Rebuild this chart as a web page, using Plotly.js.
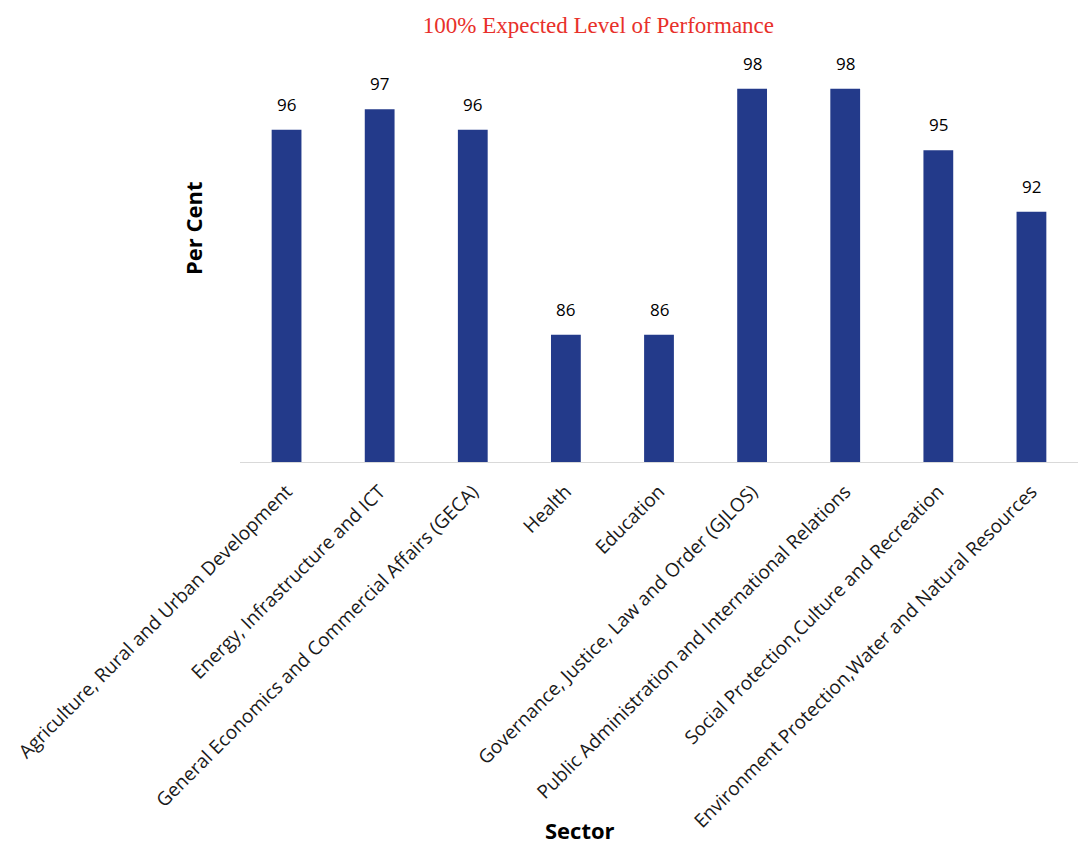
<!DOCTYPE html>
<html>
<head>
<meta charset="utf-8">
<script src="https://cdn.plot.ly/plotly-3.0.1.min.js"></script>
<style>
  html, body { margin: 0; padding: 0; background: #ffffff; }
  #chart { width: 1088px; height: 845px; }
</style>
</head>
<body>
<div id="chart"></div>
<script>
const sectors = [
  "Agriculture, Rural and Urban Development",
  "Energy, Infrastructure and ICT",
  "General Economics and Commercial Affairs (GECA)",
  "Health",
  "Education",
  "Governance, Justice, Law and Order (GJLOS)",
  "Public Administration and International Relations",
  "Social Protection,Culture and Recreation",
  "Environment Protection,Water and Natural Resources"
];
const perCent = [96, 97, 96, 86, 86, 98, 98, 95, 92];

const chartTitle = "100% Expected Level of Performance";
const yTitle = "Per Cent";
const xTitle = "Sector";

const barColor = "#233a8a";
const labelFont = "Open Sans, Noto Sans, sans-serif";

const trace = {
  type: "bar",
  x: sectors,
  y: perCent,
  marker: { color: barColor },
  hoverinfo: "x+y",
  showlegend: false
};

const valueLabels = sectors.map((s, i) => ({
  x: s,
  y: perCent[i],
  xref: "x",
  yref: "y",
  text: String(perCent[i]),
  showarrow: false,
  yanchor: "bottom",
  yshift: 12,
  font: { family: labelFont, size: 17, color: "#000000" }
}));

const layout = {
  width: 1088,
  height: 845,
  paper_bgcolor: "#ffffff",
  plot_bgcolor: "#ffffff",
  margin: { l: 240, r: 10, t: 60, b: 383 },
  bargap: 0.68,
  title: {
    text: chartTitle,
    font: { family: "Liberation Serif, Times New Roman, serif", size: 23, color: "#e8302a" },
    x: 0.55,
    xref: "container",
    xanchor: "center",
    y: 0.970,
    yref: "container",
    yanchor: "middle"
  },
  xaxis: {
    type: "category",
    tickangle: -45,
    showline: true,
    linecolor: "#d9d9d9",
    linewidth: 1,
    ticks: "",
    ticklabelstandoff: 10,
    showgrid: false,
    zeroline: false,
    automargin: false,
    tickfont: { family: labelFont, size: 19, color: "#1a1a1a" }
  },
  yaxis: {
    range: [79.8, 99.4],
    showticklabels: false,
    showgrid: false,
    zeroline: false,
    showline: false,
    ticks: "",
    automargin: false
  },
  annotations: valueLabels.concat([
    {
      xref: "paper", yref: "paper",
      x: (580 - 240) / 838, y: -(830 - 462) / 402,
      xanchor: "center", yanchor: "middle",
      text: "<b>" + xTitle + "</b>",
      showarrow: false,
      font: { family: labelFont, size: 22, color: "#000000" }
    },
    {
      xref: "paper", yref: "paper",
      x: -(240 - 193) / 838, y: (462 - 228) / 402,
      xanchor: "center", yanchor: "middle",
      textangle: -90,
      text: "<b>" + yTitle + "</b>",
      showarrow: false,
      font: { family: labelFont, size: 22, color: "#000000" }
    }
  ])
};

Plotly.newPlot("chart", [trace], layout, { displayModeBar: false, staticPlot: true });
</script>
</body>
</html>
